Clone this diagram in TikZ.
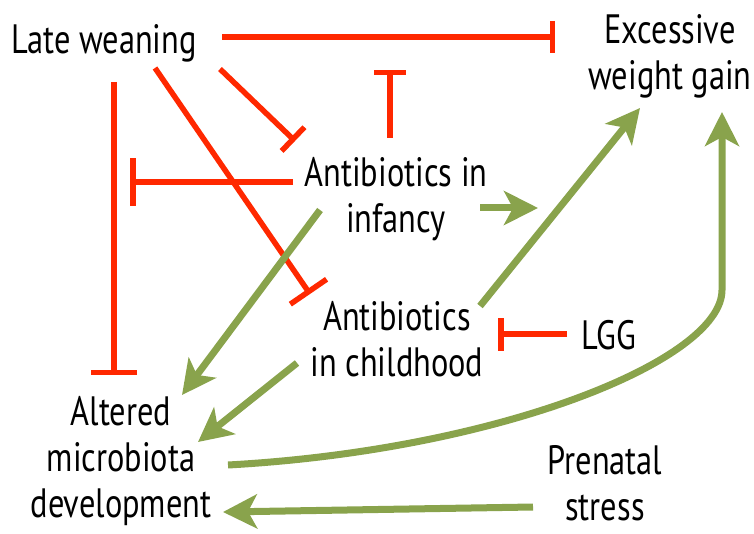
\documentclass[tikz,border=0pt]{standalone}
\usepackage{fontspec}
\newfontfamily\hand{PT Sans}[FakeStretch=0.79]
\usetikzlibrary{arrows.meta}
\definecolor{inhred}{RGB}{255,40,0}
\definecolor{actgreen}{RGB}{137,163,76}
\begin{document}
\begin{tikzpicture}[x=1pt,y=-1pt,
  lbl/.style={font=\hand\fontsize{41}{46}\selectfont, align=center, inner sep=0pt},
  inh/.style={draw=inhred, line width=5.5pt, -{Bar[width=#1]}},
  inh/.default=32pt,
  act/.style={draw=actgreen, line width=7pt, -{Stealth[length=34pt,width=34pt,inset=9pt]}}]
\useasboundingbox (0,0) rectangle (754,534);
% nodes
\node[lbl] (lw)  at (104,43)  {Late weaning};
\node[lbl] (ewg) at (670,56)  {Excessive\\weight gain};
\node[lbl] (abi) at (396,199) {Antibiotics in\\infancy};
\node[lbl] (abc) at (397,339) {Antibiotics\\in childhood};
\node[lbl] (lgg) at (609,335) {LGG};
\node[lbl] (amd) at (121,461) {Altered\\microbiota\\development};
\node[lbl] (ps)  at (605,483) {Prenatal\\stress};
% connector ends
\coordinate (lwE)  at (222,37);
\coordinate (ewgW) at (555,37);
\coordinate (abiN) at (390,138);
\coordinate (lwBar) at (390,70);
\coordinate (lwSE) at (220,69);
\coordinate (abiNW) at (295,141);
\coordinate (abiW) at (293,182);
\coordinate (vBar) at (130,182);
\coordinate (lwS) at (114,82);
\coordinate (amdN) at (114,375);
\coordinate (lwS2) at (155,68);
\coordinate (abcNW) at (310,294);
\coordinate (lggW) at (567,334);
\coordinate (abcE) at (498,334);
\coordinate (abiE) at (480,208);
\coordinate (abiR) at (538,208);
\coordinate (abcNE) at (480,306);
\coordinate (ewgS) at (640,108);
\coordinate (amdE) at (228,465);
\coordinate (ewgS2) at (722,112);
\coordinate (abiSW) at (320,210);
\coordinate (amdNE) at (182,395);
\coordinate (abcSW) at (297,363);
\coordinate (amdE2) at (198,442);
\coordinate (psW) at (533,507);
\coordinate (amdSE) at (223,512);
% inhibitions
\draw[inh] (lwE) -- (ewgW);
\draw[inh] (abiN) -- (lwBar);
\draw[inh=33pt] (lwSE) -- (abiNW);
\draw[inh=48pt] (abiW) -- (vBar);
\draw[inh=46pt] (lwS) -- (amdN);
\draw[inh=44pt] (lwS2) -- (abcNW);
\draw[inh=33pt] (lggW) -- (abcE);
% activations
\draw[act] (abiE) -- (abiR);
\draw[act] (abcNE) -- (ewgS);
\draw[act] (amdE) .. controls (500,450) and (722,360) .. (722,290) -- (ewgS2);
\draw[act] (abiSW) -- (amdNE);
\draw[act] (abcSW) -- (amdE2);
\draw[act] (psW) -- (amdSE);
\end{tikzpicture}
\end{document}
